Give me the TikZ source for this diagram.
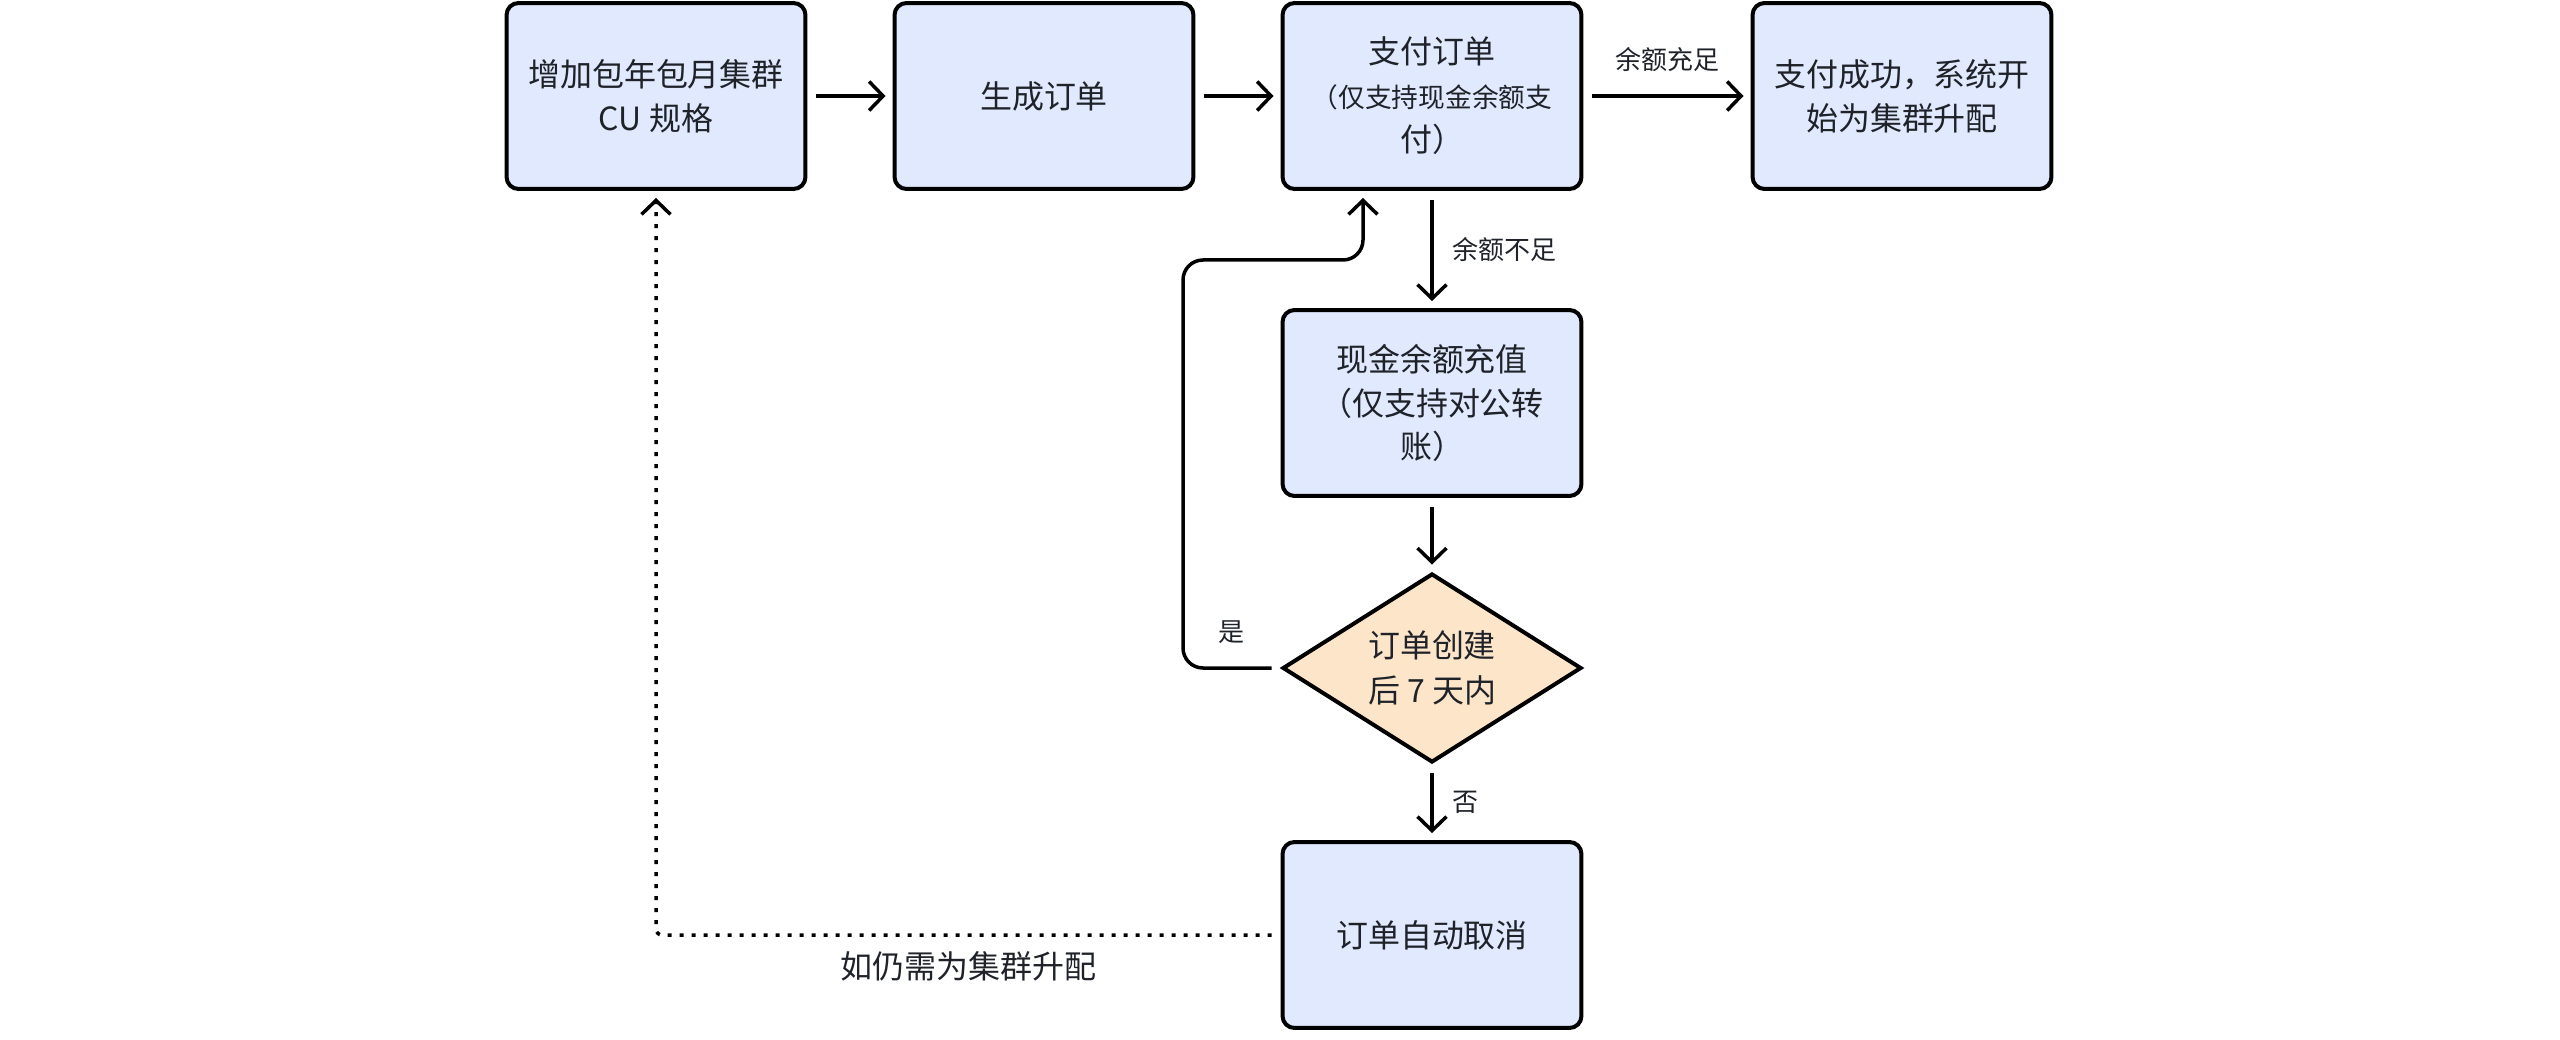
\documentclass[tikz,border=0pt]{standalone}
\usepackage{fontspec}
\setmainfont{Noto Sans CJK SC}
\usetikzlibrary{arrows.meta,shapes.geometric}
\definecolor{boxblue}{RGB}{224,233,253}
\definecolor{boxpeach}{RGB}{253,229,201}
\definecolor{txt}{RGB}{31,35,41}

\begin{document}
\begin{tikzpicture}[x=0.02cm,y=-0.02cm,>={Straight Barb[length=0.28cm,width=0.58cm]},
  box/.style={draw,line width=0.08cm,rounded corners=0.24cm,fill=boxblue,minimum width=5.98cm,minimum height=3.72cm,
    inner sep=0,align=center,text=txt,font=\fontsize{18.2}{25}\selectfont},
  decide/.style={diamond,draw,line width=0.08cm,fill=boxpeach,aspect=1.6,minimum width=5.98cm,minimum height=3.78cm,
    inner sep=0,align=center,text=txt,font=\fontsize{18.2}{26}\selectfont},
  link/.style={->,line width=0.07cm,shorten <=0.18cm,shorten >=0.14cm},
  lab/.style={text=txt,inner sep=0,font=\fontsize{14.8}{18}\selectfont}]
\useasboundingbox (0,0) rectangle (2560,1040);

\node[box] (spec) at (656,96) {增加包年包月集群\\CU 规格};
\node[box] (order) at (1044,96) {生成订单};
\node[box] (pay) at (1432,96) {支付订单\\\fontsize{15.2}{23}\selectfont （仅支持现金余额支\\付）};
\node[box] (done) at (1902,96) {支付成功，系统开\\始为集群升配};
\node[box] (topup) at (1432,403) {现金余额充值\\（仅支持对公转\\账）};
\node[decide] (check) at (1432,668) {订单创建\\后 7 天内};
\node[box] (cancel) at (1432,935) {订单自动取消};
\coordinate (bend) at (1363,260);

\draw[link] (spec) -- (order);
\draw[link] (order) -- (pay);
\draw[link] (pay) -- node[lab,midway,above=0.46cm] {余额充足} (done);
\draw[link] (pay) -- node[lab,midway,right=0.38cm] {余额不足} (topup);
\draw[link] (topup) -- (check);
\draw[link] (check) -- node[lab,midway,right=0.38cm] {否} (cancel);
%%%%%%%%%%%%%%%% back to payment
\draw[link,rounded corners=0.4cm] (check.west) -- node[lab,midway,above=0.46cm] {是} (1183,668)
  -- (1183,260) -- (bend) -- (bend |- pay.south);
%%%%%%%%%%%%%%%%
\draw[link,dash pattern=on 0.08cm off 0.16cm,rounded corners=0.12cm] (cancel.west)
  -- node[lab,midway,below=0.3cm,font=\fontsize{18.2}{22}\selectfont] {如仍需为集群升配} (cancel.west -| spec.south) -- (spec.south);
\end{tikzpicture}
\end{document}
